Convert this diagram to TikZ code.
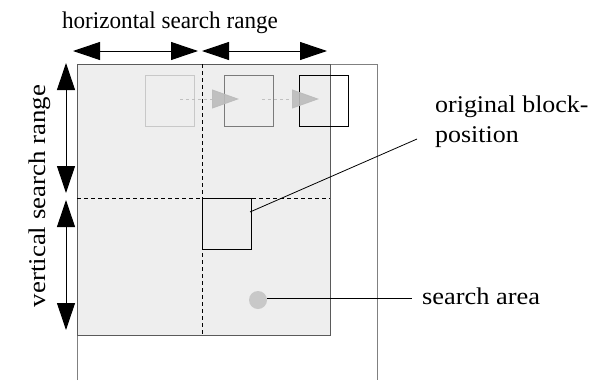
\documentclass[tikz,border=0pt]{standalone}
\usepackage{fontspec}
\setmainfont{Liberation Serif}
\usetikzlibrary{arrows.meta}
\definecolor{areafill}{HTML}{EEEEEE}
\definecolor{areaedge}{HTML}{5A5A5A}
\definecolor{frameedge}{HTML}{808080}
\definecolor{ghostA}{HTML}{C8C8C8}
\definecolor{ghostB}{HTML}{7A7A7A}
\definecolor{ghosttip}{HTML}{BBBBBB}
\begin{document}
\begin{tikzpicture}[x=1pt,y=-1pt,
  lbl/.style={font=\fontsize{24}{30}\selectfont, inner sep=0pt},
  rangearrow/.style={line width=1pt,
    {Triangle[length=27pt,width=18pt]}-{Triangle[length=27pt,width=18pt]}},
  blockbox/.style={draw, line width=0.9pt, minimum width=49pt, minimum height=51pt,
    inner sep=0pt, anchor=north west},
  ghostarrow/.style={ghosttip, line width=0.9pt, dash pattern=on 3pt off 3pt,
    -{Triangle[length=27pt,width=19pt]}, opacity=0.9},
  divider/.style={line width=0.8pt, dash pattern=on 4pt off 3pt},
  leader/.style={line width=0.8pt}]
\useasboundingbox (0,0) rectangle (604,380);

% picture frame (open at the bottom)
\draw[frameedge, line width=1pt] (77,380) -- (77,64) -- (377,64) -- (377,380);

% search area
\path[fill=areafill, draw=areaedge, line width=1pt] (77,64) rectangle (330,335);

% quadrant dividers
\coordinate (vdTop) at (202,64);
\coordinate (vdBot) at (202,335);
\coordinate (hdL) at (77,198);
\coordinate (hdR) at (330,198);
\draw[divider] (vdTop) -- (vdBot);
\draw[divider] (hdL) -- (hdR);

% original block position
\node[blockbox] (orig) at (202,198) {};

% successive candidate blocks
\node[blockbox, draw=ghostA] (cand1) at (145,75) {};
\node[blockbox, draw=ghostB] (cand2) at (224,75) {};
\node[blockbox, draw=black] (cand3) at (299,75) {};

% movement of the candidate block
\coordinate (m1s) at (180,99);
\coordinate (m1e) at (239,99);
\coordinate (m2s) at (262,99);
\coordinate (m2e) at (319,99);
\draw[ghostarrow] (m1s) -- (m1e);
\draw[ghostarrow] (m2s) -- (m2e);

% search ranges
\coordinate (h1) at (73,51);
\coordinate (h2) at (198,51);
\coordinate (h3) at (202,51);
\coordinate (h4) at (327,51);
\draw[rangearrow] (h1) -- (h2);
\draw[rangearrow] (h3) -- (h4);
\coordinate (v1) at (66,63);
\coordinate (v2) at (66,193);
\coordinate (v3) at (66,200);
\coordinate (v4) at (66,330);
\draw[rangearrow] (v1) -- (v2);
\draw[rangearrow] (v3) -- (v4);

% labels
\node[lbl, anchor=base] (hlabel) at (170,28)
  {\scalebox{0.964}[1]{horizontal search range}};
\node[lbl, rotate=90, anchor=base] (vlabel) at (45,196)
  {\scalebox{1.12}[1]{vertical search range}};
\node[lbl, anchor=base west, align=left] (olabel) at (435,142)
  {\scalebox{1.08}[1]{original block-}\\\scalebox{1.08}[1]{position}};
\node[lbl, anchor=base west] (slabel) at (422,304)
  {\scalebox{1.10}[1]{search area}};

% sample point of the search area
\node[circle, fill=ghostA, minimum size=18pt, inner sep=0pt] (dot) at (258,300) {};

% leader lines
\coordinate (origpt) at (250,212);
\coordinate (oend) at (417,139);
\coordinate (send) at (412,298);
\draw[leader] (origpt) -- (oend);
\draw[leader] (dot.east |- send) -- (send);
\end{tikzpicture}
\end{document}
